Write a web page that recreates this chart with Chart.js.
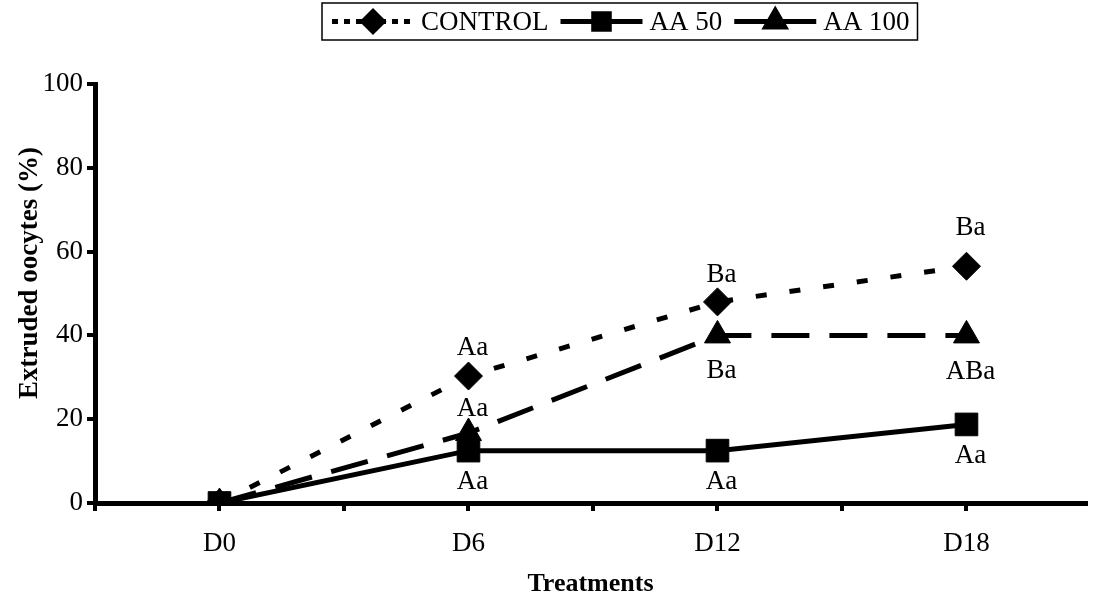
<!DOCTYPE html>
<html>
<head>
<meta charset="utf-8">
<script src="https://cdn.jsdelivr.net/npm/chart.js@4.4.0/dist/chart.umd.min.js"></script>
<style>
html, body { margin: 0; padding: 0; background: #fff; overflow: hidden; }
#wrap { width: 1103px; height: 600px; }
</style>
</head>
<body>
<div id="wrap"><canvas id="oocyteChart"></canvas></div>
<script>
// days of culture (x categories)
var days = ['D0', 'D6', 'D12', 'D18'];

// extruded oocytes, %
var control = [0, 30.3, 48, 56.5];
var aa50 = [0, 12.5, 12.5, 18.75];
var aa100 = [0, 16.7, 40, 40];

// significance letters shown next to each point
var controlLetters = ['', 'Aa', 'Ba', 'Ba'];
var aa50Letters = ['', 'Aa', 'Aa', 'Aa'];
var aa100Letters = ['', 'Aa', 'Ba', 'ABa'];

var yTicks = [0, 20, 40, 60, 80, 100];

var serif = "'Liberation Serif', 'Times New Roman', serif";

function toPoints(arr) {
    var pts = [];
    for (var i = 0; i < arr.length; i++) {
        pts.push({x: i, y: arr[i]});
    }
    return pts;
}

// where the letters go relative to the marker (px, negative = above)
var letterSets = [
    {values: control, letters: controlLetters, shift: [0, -28, -27, -38]},
    {values: aa50, letters: aa50Letters, shift: [0, 31, 31, 31]},
    {values: aa100, letters: aa100Letters, shift: [0, -24, 36, 37]}
];

var letterPlugin = {
    id: 'letters',
    afterDatasetsDraw: function(chart) {
        var ctx = chart.ctx;
        var xs = chart.scales.x, ys = chart.scales.y;
        ctx.save();
        ctx.font = '27px ' + serif;
        ctx.fillStyle = '#000';
        ctx.textAlign = 'center';
        ctx.textBaseline = 'middle';
        letterSets.forEach(function(set) {
            set.values.forEach(function(v, i) {
                if (!set.letters[i]) return;
                ctx.fillText(set.letters[i], xs.getPixelForValue(i) + 4, ys.getPixelForValue(v) + set.shift[i]);
            });
        });
        ctx.restore();
    }
};

// rotated y title, drawn by hand so it can sit a little above centre
var yTitlePlugin = {
    id: 'yTitle',
    afterDraw: function(chart) {
        var ctx = chart.ctx;
        ctx.save();
        ctx.translate(30, 273);
        ctx.rotate(-Math.PI / 2);
        ctx.font = 'bold 27px ' + serif;
        ctx.fillStyle = '#000';
        ctx.textAlign = 'center';
        ctx.textBaseline = 'middle';
        ctx.fillText('Extruded oocytes (%)', 0, 0);
        ctx.restore();
    }
};

// boxed legend at the top
var legendPlugin = {
    id: 'boxLegend',
    afterDraw: function(chart) {
        var ctx = chart.ctx;
        var left = 322, top = 3, h = 37, mid = top + h / 2;
        var x = left + 10;
        var sample = 82;
        ctx.save();
        ctx.font = '27px ' + serif;
        ctx.textBaseline = 'middle';
        ctx.fillStyle = '#000';
        ctx.strokeStyle = '#000';
        chart.data.datasets.forEach(function(ds) {
            ctx.lineWidth = 5;
            ctx.setLineDash(ds.legendDash || []);
            ctx.beginPath();
            ctx.moveTo(x, mid);
            ctx.lineTo(x + sample, mid);
            ctx.stroke();
            ctx.setLineDash([]);
            Chart.helpers.drawPoint(ctx, {pointStyle: ds.pointStyle, radius: ds.legendRadius, rotation: 0, borderWidth: 1}, x + sample / 2, mid);
            ctx.fill();
            ctx.fillText(ds.label, x + sample + 7, mid + 1);
            x += sample + 7 + ctx.measureText(ds.label).width + 12;
        });
        ctx.lineWidth = 1.5;
        ctx.strokeRect(left, top, x - left - 4, h);
        ctx.restore();
    }
};

var common = {
    borderColor: '#000',
    backgroundColor: '#000',
    pointBackgroundColor: '#000',
    pointBorderColor: '#000',
    borderWidth: 5,
    pointBorderWidth: 1,
    fill: false,
    tension: 0
};

var ctx = document.getElementById('oocyteChart');

var xMax = days.length - 0.52;

var graph = new Chart(ctx, {
    type: 'line',
    data: {
        datasets: [
            Object.assign({}, common, {label: 'CONTROL', data: toPoints(control), borderDash: [11, 23],
                pointStyle: 'rectRot', pointRadius: 14, legendDash: [6, 6], legendRadius: 10, order: 1}),
            Object.assign({}, common, {label: 'AA 50', data: toPoints(aa50),
                pointStyle: 'rect', pointRadius: 16, legendRadius: 11, order: 0}),
            Object.assign({}, common, {label: 'AA 100', data: toPoints(aa100), borderDash: [38, 20],
                pointStyle: 'triangle', pointRadius: 15, legendRadius: 11, order: 2})
        ]
    },
    options: {
        responsive: true,
        maintainAspectRatio: false,
        animation: false,
        layout: {padding: {top: 84, left: 0, right: 0, bottom: 0}},
        plugins: {
            legend: {display: false},
            tooltip: {enabled: false}
        },
        scales: {
            x: {
                type: 'linear',
                min: -0.5,
                max: xMax,
                afterBuildTicks: function(scale) {
                    var t = [];
                    for (var v = -0.5; v <= xMax; v += 0.5) t.push({value: v});
                    scale.ticks = t;
                },
                afterFit: function(scale) { scale.height = 97; },
                ticks: {
                    autoSkip: false,
                    maxRotation: 0,
                    padding: 17,
                    color: '#000',
                    font: {family: serif, size: 27},
                    callback: function(v) { return Number.isInteger(v) ? days[v] : ''; }
                },
                grid: {drawOnChartArea: false, tickLength: 8, lineWidth: 4, color: '#000'},
                border: {color: '#000', width: 5},
                title: {
                    display: true,
                    text: 'Treatments',
                    color: '#000',
                    font: {family: serif, size: 26, weight: 'bold'},
                    padding: {top: 0, bottom: 0}
                }
            },
            y: {
                min: 0,
                max: 100,
                afterBuildTicks: function(scale) {
                    scale.ticks = yTicks.map(function(v) { return {value: v}; });
                },
                afterFit: function(scale) { scale.width = 95; },
                ticks: {
                    padding: 4,
                    color: '#000',
                    font: {family: serif, size: 27}
                },
                grid: {drawOnChartArea: false, tickLength: 8, lineWidth: 4, color: '#000'},
                border: {color: '#000', width: 5}
            }
        }
    },
    plugins: [letterPlugin, yTitlePlugin, legendPlugin]
});
</script>
</body>
</html>
